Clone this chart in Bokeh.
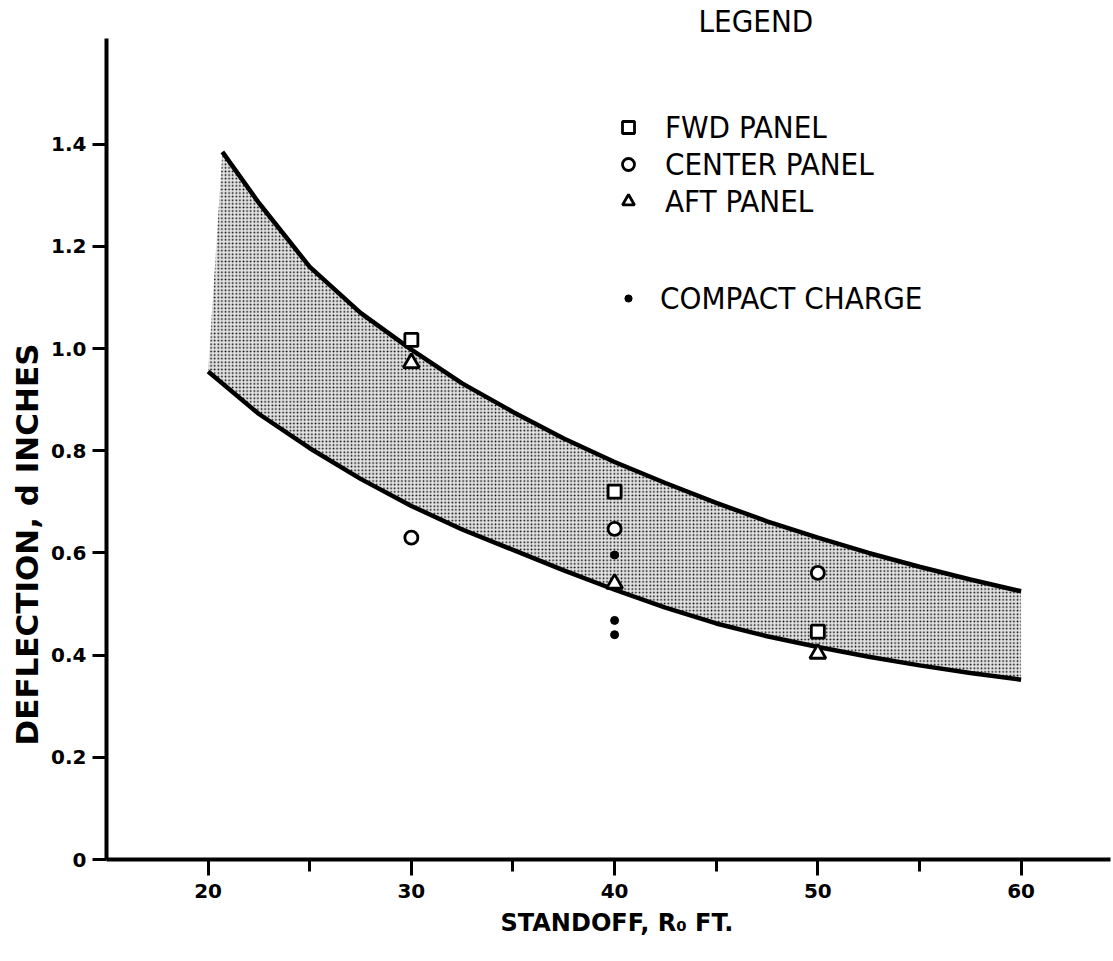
from bokeh.plotting import figure
from bokeh.models import Range1d, FixedTicker, Title, Legend, LegendItem
from bokeh.embed import file_html
from bokeh.resources import INLINE

# ---------------- data ----------------
x_ticks = [20, 30, 40, 50, 60]
x_minor_ticks = [25, 35, 45, 55]
x_tick_labels = ["20", "30", "40", "50", "60"]
y_ticks = [0, 0.2, 0.4, 0.6, 0.8, 1.0, 1.2, 1.4]
y_tick_labels = ["0", "0.2", "0.4", "0.6", "0.8", "1.0", "1.2", "1.4"]

upper_x = [20.7, 22.5, 25, 27.5, 30, 32.5, 35, 37.5, 40, 42.5, 45, 47.5, 50, 52.5, 55, 57.5, 60]
upper_y = [1.385, 1.285, 1.160, 1.070, 0.998, 0.932, 0.876, 0.824, 0.778, 0.737, 0.698,
           0.662, 0.630, 0.600, 0.573, 0.548, 0.525]
lower_x = [20, 22.5, 25, 27.5, 30, 32.5, 35, 37.5, 40, 42.5, 45, 47.5, 50, 52.5, 55, 57.5, 60]
lower_y = [0.955, 0.872, 0.805, 0.745, 0.692, 0.646, 0.606, 0.566, 0.528, 0.493, 0.462,
           0.437, 0.416, 0.397, 0.380, 0.365, 0.352]

fwd_x = [30, 40, 50]
fwd_y = [1.017, 0.720, 0.446]
center_x = [30, 40, 50]
center_y = [0.630, 0.647, 0.561]
aft_x = [30, 40, 50]
aft_y = [0.972, 0.540, 0.403]
compact_x = [40, 40, 40]
compact_y = [0.596, 0.468, 0.440]

# ---------------- figure ----------------
BOLD_FONT = "DejaVu Sans"
NARROW_FONT = "'Liberation Sans Narrow', 'DejaVu Sans Condensed', Roboto, sans-serif"

p = figure(width=1113, height=961, output_backend="svg", toolbar_location=None,
           x_range=Range1d(15, 64.4), y_range=Range1d(0, 1.607),
           min_border_left=106, min_border_right=3, min_border_top=38,
           min_border_bottom=102)
p.outline_line_color = None
p.grid.visible = False
p.background_fill_color = "white"
p.border_fill_color = "white"

# "LEGEND" heading (placed above the frame)
p.title.text = "LEGEND"
p.title.align = "left"
p.title.offset = 592
p.title.standoff = 0
p.title.text_font = NARROW_FONT
p.title.text_font_style = "normal"
p.title.text_font_size = "31px"
p.title.text_color = "black"

# shaded band
p.patch(upper_x + lower_x[::-1], upper_y + lower_y[::-1],
        fill_color="#e2e2e2", line_color=None,
        hatch_pattern="dot", hatch_scale=3.6, hatch_weight=2.4,
        hatch_color="black", hatch_alpha=1.0)
p.line(upper_x, upper_y, line_color="black", line_width=4.5)
p.line(lower_x, lower_y, line_color="black", line_width=4.5)

# data points
fwd = p.scatter(fwd_x, fwd_y, marker="square", size=13, fill_color="white",
                line_color="black", line_width=2.8)
center = p.scatter(center_x, center_y, marker="circle", size=13, fill_color="white",
                   line_color="black", line_width=2.8)
aft = p.scatter(aft_x, aft_y, marker="triangle", size=16, fill_color="white",
                line_color="black", line_width=2.8)
compact = p.scatter(compact_x, compact_y, marker="circle", size=8,
                    fill_color="black", line_color="black")

# axes
for ax in (p.xaxis[0], p.yaxis[0]):
    ax.axis_line_width = 4
    ax.axis_line_color = "black"
    ax.major_tick_in = 0
    ax.minor_tick_in = 0
    ax.major_tick_line_width = 3
    ax.minor_tick_line_width = 3
    ax.major_label_text_font = BOLD_FONT
    ax.major_label_text_font_style = "bold"
    ax.major_label_text_font_size = "20px"
    ax.major_label_text_color = "black"

p.xaxis.ticker = FixedTicker(ticks=x_ticks, minor_ticks=x_minor_ticks)
p.xaxis.major_label_overrides = dict(zip(x_ticks, x_tick_labels))
p.xaxis.major_tick_out = 16
p.xaxis.minor_tick_out = 12
p.xaxis.major_label_standoff = 8

p.yaxis.ticker = FixedTicker(ticks=y_ticks, minor_ticks=[])
p.yaxis.major_label_overrides = dict(zip(y_ticks, y_tick_labels))
p.yaxis.major_tick_out = 14
p.yaxis.major_label_standoff = 6

# axis titles as side titles (positioned like the reference)
p.add_layout(Title(text="DEFLECTION, d INCHES", align="left", offset=114,
                   standoff=7, text_font=BOLD_FONT, text_font_style="bold",
                   text_font_size="31px", text_color="black"), "left")
p.add_layout(Title(text="STANDOFF, R\u2080  FT.", align="left", offset=394,
                   standoff=12, text_font=BOLD_FONT, text_font_style="bold",
                   text_font_size="24px", text_color="black"), "below")

# legend
leg1 = Legend(items=[LegendItem(label="FWD PANEL", renderers=[fwd]),
                     LegendItem(label="CENTER PANEL", renderers=[center]),
                     LegendItem(label="AFT PANEL", renderers=[aft])],
              location=(507, 640))
leg2 = Legend(items=[LegendItem(label="COMPACT CHARGE", renderers=[compact])],
              location=(513, 543))
for lg, gw in ((leg1, 30), (leg2, 18)):
    lg.background_fill_alpha = 0
    lg.border_line_color = None
    lg.padding = 0
    lg.margin = 0
    lg.spacing = 1
    lg.glyph_width = gw
    lg.glyph_height = gw
    lg.label_height = 30
    lg.label_standoff = 22 if gw == 30 else 23
    lg.label_text_font = NARROW_FONT
    lg.label_text_font_size = "31px"
    lg.label_text_color = "black"
    lg.label_text_baseline = "middle"
    p.add_layout(lg)

open("out.html", "w").write(file_html(p, INLINE))
